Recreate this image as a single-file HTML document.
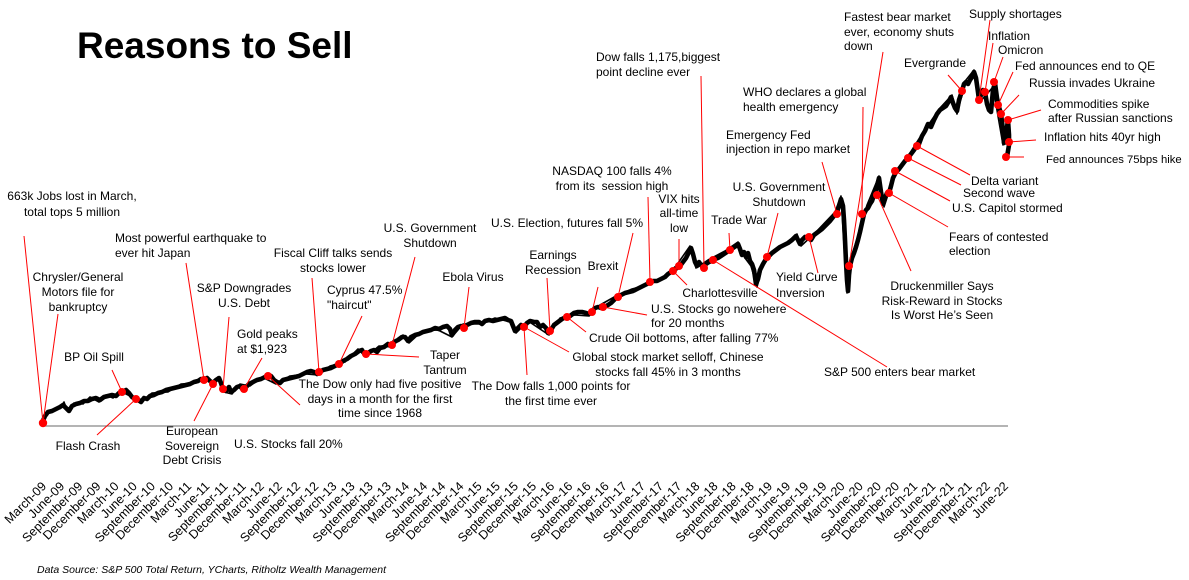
<!DOCTYPE html>
<html>
<head>
<meta charset="utf-8">
<style>
html,body{margin:0;padding:0;background:#fff;}
svg{display:block;}
text{font-family:"Liberation Sans",Arial,sans-serif;fill:#000;}
.a{font-size:12px;}
.m{text-anchor:middle;}
.t{font-size:12.5px;text-anchor:end;}
.ld{stroke:#ff0000;stroke-width:1;}
</style>
</head>
<body>
<svg width="1189" height="580" viewBox="0 0 1189 580" xmlns="http://www.w3.org/2000/svg">
<rect width="1189" height="580" fill="#fff"/>
<text x="77" y="58" style="font-size:37px;font-weight:bold;">Reasons to Sell</text>

<line x1="43" y1="426" x2="1008" y2="426" stroke="#888" stroke-width="1.2"/>

<polyline fill="none" stroke="#000" stroke-width="4.6" stroke-linejoin="round" stroke-linecap="round" points="42,423 45,416 48,412 52,411 56,409 60,407 63,405 66,408 69,411 72,406 76,404 80,403 84,401 88,401 92,399 96,398 100,400 104,397 108,396 112,395 116,396 119,393 122,392 126,390 129,393 132,397 135,399 138,400 141,402 144,398 147,399 150,396 154,395 158,393 162,392 166,390 170,389 174,388 178,387 182,386 186,385 190,384 194,382 198,381 201,379 204,380 207,378 210,381 213,383 216,380 219,378 221,383 223,389 226,391 229,387 231,392 234,390 237,387 240,386 243,390 246,387 249,384 253,382 257,380 261,379 265,377 268,375 271,376 274,380 277,382 280,383 283,380 287,379 291,378 295,377 299,376 303,374 307,372 311,371 314,372 317,374 320,372 323,370 327,369 331,368 335,366 339,364 343,361 347,359 351,356 355,354 359,351 362,350 365,355 368,353 371,351 374,350 377,352 380,348 384,347 388,344 391,345 394,342 398,340 402,337 405,337 408,341 411,337 415,335 419,334 423,332 427,331 431,330 435,328 439,329 443,327 447,326 450,329 452,335 455,330 458,327 461,326 464,327 467,325 471,323 475,322 479,322 482,324 485,321 489,320 493,321 497,320 501,319 505,318 508,320 511,321 513,326 515,331 518,328 521,325 524,327 527,323 530,321 534,322 537,322 540,327 543,325 546,328 548,333 551,330 554,325 558,322 562,319 566,317 570,316 574,313 578,312 582,312 586,313 589,314 592,311 595,308 598,307 601,308 604,307 608,305 611,303 614,300 617,297 621,295 625,293 629,292 633,291 637,289 641,287 645,285 649,283 653,281 657,281 661,279 665,277 668,274 671,272 674,270 677,268 680,266 683,262 686,258 689,252 691,248 693,254 695,262 697,266 699,262 701,265 703,268 706,264 709,262 712,261 715,259 718,258 721,256 724,254 727,252 730,250 733,248 736,246 738,244 740,249 742,255 744,252 746,257 748,253 750,261 752,264 754,270 756,284 758,279 760,270 763,264 766,259 769,256 772,253 776,250 780,247 784,245 788,243 792,240 796,236 798,240 800,244 802,240 805,237 808,238 811,240 814,235 818,232 822,229 826,225 830,221 834,216 837,212 839,206 841,199 843,206 844,220 845,240 846,262 847,280 848,291 849,275 850,266 852,258 854,253 856,247 858,240 860,232 862,223 864,214 866,210 868,208 870,204 872,201 874,195 876,190 878,182 879,178 881,192 883,204 885,198 887,193 889,193 891,186 893,178 896,172 899,169 902,165 905,161 908,158 911,154 914,150 916,147 919,144 922,136 925,131 928,124 931,127 934,120 937,114 940,110 943,108 946,106 949,101 951,97 953,103 955,108 957,111 959,100 962,91 964,84 966,82 968,84 970,80 972,77 974,72 976,78 978,92 979,100 981,95 983,90 985,92 987,104 989,110 991,112 993,90 995,83 997,98 999,107 1001,114 1003,130 1004,143 1006,135 1008,120 1009,135 1009,145 1007,157"/>
<polyline fill="none" stroke="#000" stroke-width="1.6" stroke-linejoin="round" points="60,409 64,402 67,410 74,403 83,404 90,397 99,402 106,395 113,398 120,391 130,396 143,400 152,393 168,392 181,384 196,383 206,377 212,385 218,377 224,392 232,394 240,384 250,386 262,377 276,384 290,376 306,374 318,375 330,366 345,362 358,349 366,357 379,346 392,347 403,335 409,343 422,331 438,330 452,337 463,324 480,324 495,318 510,322 516,333 528,321 540,329 549,335 560,318 575,315 589,316 600,305 616,296 632,289 648,285 664,276 676,266 690,246 696,268 708,260 725,251 738,242 745,258 751,266 757,287 764,260 786,243 797,234 801,246 815,233 835,212 841,196 847,293 852,256 867,205 879,176 884,207 894,176 910,153 922,134 940,108 952,95 957,114 966,80 974,70 979,103 993,87 1003,145 1009,118"/>

<g class="ld">
<line x1="24" y1="236" x2="43" y2="423"/>
<line x1="58" y1="314" x2="43" y2="423"/>
<line x1="112" y1="370" x2="122" y2="392"/>
<line x1="97" y1="435" x2="136" y2="399"/>
<line x1="186" y1="263" x2="204" y2="380"/>
<line x1="229" y1="317" x2="223" y2="389"/>
<line x1="262" y1="358" x2="244" y2="389"/>
<line x1="194" y1="421" x2="213" y2="384"/>
<line x1="300" y1="405" x2="268" y2="376"/>
<line x1="312" y1="278" x2="319" y2="372"/>
<line x1="362" y1="316" x2="339" y2="364"/>
<line x1="415" y1="257" x2="392" y2="345"/>
<line x1="419" y1="357" x2="366" y2="354"/>
<line x1="469" y1="287" x2="464" y2="328"/>
<line x1="527" y1="375" x2="524" y2="327"/>
<line x1="569" y1="352" x2="524" y2="327"/>
<line x1="547" y1="278" x2="550" y2="331"/>
<line x1="598" y1="287" x2="592" y2="312"/>
<line x1="586" y1="332" x2="567" y2="317"/>
<line x1="647" y1="315" x2="603" y2="307"/>
<line x1="633" y1="233" x2="618" y2="297"/>
<line x1="648" y1="197" x2="650" y2="282"/>
<line x1="679" y1="239" x2="679" y2="266"/>
<line x1="687" y1="285" x2="673" y2="271"/>
<line x1="701" y1="76" x2="704" y2="268"/>
<line x1="729" y1="233" x2="730" y2="250"/>
<line x1="778" y1="213" x2="767" y2="257"/>
<line x1="887" y1="367" x2="713" y2="260"/>
<line x1="818" y1="273" x2="809" y2="237"/>
<line x1="822" y1="162" x2="837" y2="214"/>
<line x1="863" y1="107" x2="862" y2="214"/>
<line x1="883" y1="52" x2="849" y2="266"/>
<line x1="911" y1="271" x2="877" y2="195"/>
<line x1="948" y1="227" x2="889" y2="193"/>
<line x1="950" y1="201" x2="895" y2="171"/>
<line x1="961" y1="185" x2="908" y2="158"/>
<line x1="970" y1="175" x2="917" y2="146"/>
<line x1="948" y1="75" x2="962" y2="91"/>
<line x1="990" y1="20" x2="979" y2="100"/>
<line x1="993" y1="43" x2="985" y2="92"/>
<line x1="1003" y1="57" x2="994" y2="82"/>
<line x1="1013" y1="72" x2="998" y2="105"/>
<line x1="1019" y1="95" x2="1001" y2="114"/>
<line x1="1041" y1="110" x2="1008" y2="120"/>
<line x1="1036" y1="140" x2="1009" y2="142"/>
<line x1="1024" y1="157" x2="1006" y2="157"/>
</g>

<g fill="#ff0000">
<circle cx="43" cy="423" r="4.2"/>
<circle cx="122" cy="392" r="4"/>
<circle cx="136" cy="399" r="4"/>
<circle cx="204" cy="380" r="4"/>
<circle cx="213" cy="384" r="4"/>
<circle cx="223" cy="389" r="4"/>
<circle cx="244" cy="389" r="4"/>
<circle cx="268" cy="376" r="4"/>
<circle cx="319" cy="372" r="4"/>
<circle cx="339" cy="364" r="4"/>
<circle cx="366" cy="354" r="4"/>
<circle cx="392" cy="345" r="4"/>
<circle cx="464" cy="328" r="4"/>
<circle cx="524" cy="327" r="4"/>
<circle cx="550" cy="331" r="4"/>
<circle cx="567" cy="317" r="4"/>
<circle cx="592" cy="312" r="4"/>
<circle cx="603" cy="307" r="4"/>
<circle cx="618" cy="297" r="4"/>
<circle cx="650" cy="282" r="4"/>
<circle cx="673" cy="271" r="4"/>
<circle cx="679" cy="266" r="4"/>
<circle cx="704" cy="268" r="4"/>
<circle cx="713" cy="260" r="4"/>
<circle cx="730" cy="250" r="4"/>
<circle cx="767" cy="257" r="4"/>
<circle cx="809" cy="237" r="4"/>
<circle cx="837" cy="214" r="4"/>
<circle cx="849" cy="266" r="4"/>
<circle cx="862" cy="214" r="4"/>
<circle cx="877" cy="195" r="4"/>
<circle cx="889" cy="193" r="4"/>
<circle cx="895" cy="171" r="4"/>
<circle cx="908" cy="158" r="4"/>
<circle cx="917" cy="146" r="4"/>
<circle cx="962" cy="91" r="4"/>
<circle cx="979" cy="100" r="4"/>
<circle cx="985" cy="92" r="4"/>
<circle cx="994" cy="82" r="4"/>
<circle cx="998" cy="105" r="4"/>
<circle cx="1001" cy="114" r="4"/>
<circle cx="1008" cy="120" r="4"/>
<circle cx="1009" cy="142" r="4"/>
<circle cx="1006" cy="157" r="4"/>
</g>

<g class="a">
<text class="m" x="72" y="200">663k Jobs lost in March,</text>
<text class="m" x="72" y="216">total tops 5 million</text>
<text class="m" x="78" y="281">Chrysler/General</text>
<text class="m" x="78" y="296">Motors file for</text>
<text class="m" x="78" y="311">bankruptcy</text>
<text class="m" x="94" y="361">BP Oil Spill</text>
<text class="m" x="88" y="450">Flash Crash</text>
<text x="115" y="242">Most powerful earthquake to</text>
<text x="115" y="257">ever hit Japan</text>
<text class="m" x="244" y="292">S&amp;P Downgrades</text>
<text class="m" x="244" y="307">U.S. Debt</text>
<text x="237" y="338">Gold peaks</text>
<text x="237" y="353">at $1,923</text>
<text class="m" x="192" y="435">European</text>
<text class="m" x="192" y="450">Sovereign</text>
<text class="m" x="192" y="464">Debt Crisis</text>
<text x="234" y="448">U.S. Stocks fall 20%</text>
<text class="m" x="333" y="257">Fiscal Cliff talks sends</text>
<text class="m" x="333" y="272">stocks lower</text>
<text x="327" y="294">Cyprus 47.5%</text>
<text x="327" y="309">"haircut"</text>
<text class="m" x="430" y="232">U.S. Government</text>
<text class="m" x="430" y="247">Shutdown</text>
<text class="m" x="445" y="359">Taper</text>
<text class="m" x="445" y="374">Tantrum</text>
<text class="m" x="380" y="388">The Dow only had five positive</text>
<text class="m" x="380" y="403">days in a month for the first</text>
<text class="m" x="380" y="417">time since 1968</text>
<text class="m" x="473" y="281">Ebola Virus</text>
<text class="m" x="551" y="390">The Dow falls 1,000 points for</text>
<text class="m" x="551" y="405">the first time ever</text>
<text class="m" x="668" y="361">Global stock market selloff, Chinese</text>
<text class="m" x="668" y="376">stocks fall 45% in 3 months</text>
<text class="m" x="553" y="259">Earnings</text>
<text class="m" x="553" y="274">Recession</text>
<text class="m" x="603" y="270">Brexit</text>
<text x="589" y="342">Crude Oil bottoms, after falling 77%</text>
<text x="651" y="313">U.S. Stocks go nowehere</text>
<text x="651" y="327">for 20 months</text>
<text class="m" x="567" y="227">U.S. Election, futures fall 5%</text>
<text class="m" x="612" y="175">NASDAQ 100 falls 4%</text>
<text class="m" x="612" y="190">from its&#160; session high</text>
<text class="m" x="679" y="203">VIX hits</text>
<text class="m" x="679" y="217">all-time</text>
<text class="m" x="679" y="232">low</text>
<text class="m" x="720" y="297">Charlottesville</text>
<text x="596" y="61">Dow falls 1,175,biggest</text>
<text x="596" y="76">point decline ever</text>
<text class="m" x="739" y="224">Trade War</text>
<text class="m" x="779" y="191">U.S. Government</text>
<text class="m" x="779" y="206">Shutdown</text>
<text x="824" y="376">S&amp;P 500 enters bear market</text>
<text x="776" y="281">Yield Curve</text>
<text x="776" y="297">Inversion</text>
<text x="726" y="139">Emergency Fed</text>
<text x="726" y="153">injection in repo market</text>
<text x="743" y="96">WHO declares a global</text>
<text x="743" y="111">health emergency</text>
<text x="844" y="21">Fastest bear market</text>
<text x="844" y="36">ever, economy shuts</text>
<text x="844" y="50">down</text>
<text class="m" x="942" y="290">Druckenmiller Says</text>
<text class="m" x="942" y="305">Risk-Reward in Stocks</text>
<text class="m" x="942" y="319">Is Worst He’s Seen</text>
<text x="949" y="241">Fears of contested</text>
<text x="949" y="255">election</text>
<text x="952" y="212">U.S. Capitol stormed</text>
<text x="963" y="197">Second wave</text>
<text x="971" y="185">Delta variant</text>
<text class="m" x="935" y="67">Evergrande</text>
<text x="969" y="18">Supply shortages</text>
<text x="988" y="40">Inflation</text>
<text x="998" y="54">Omicron</text>
<text x="1015" y="70">Fed announces end to QE</text>
<text x="1029" y="87">Russia invades Ukraine</text>
<text x="1048" y="108">Commodities spike</text>
<text x="1048" y="122">after Russian sanctions</text>
<text x="1044" y="141">Inflation hits 40yr high</text>
<text x="1046" y="163" style="font-size:11.3px">Fed announces 75bps hike</text>
</g>

<g class="t">
<text transform="translate(47,487) rotate(-45)">March-09</text>
<text transform="translate(65.15,487) rotate(-45)">June-09</text>
<text transform="translate(83.3,487) rotate(-45)">September-09</text>
<text transform="translate(101.45,487) rotate(-45)">December-09</text>
<text transform="translate(119.6,487) rotate(-45)">March-10</text>
<text transform="translate(137.75,487) rotate(-45)">June-10</text>
<text transform="translate(155.9,487) rotate(-45)">September-10</text>
<text transform="translate(174.05,487) rotate(-45)">December-10</text>
<text transform="translate(192.2,487) rotate(-45)">March-11</text>
<text transform="translate(210.35,487) rotate(-45)">June-11</text>
<text transform="translate(228.5,487) rotate(-45)">September-11</text>
<text transform="translate(246.65,487) rotate(-45)">December-11</text>
<text transform="translate(264.8,487) rotate(-45)">March-12</text>
<text transform="translate(282.95,487) rotate(-45)">June-12</text>
<text transform="translate(301.1,487) rotate(-45)">September-12</text>
<text transform="translate(319.25,487) rotate(-45)">December-12</text>
<text transform="translate(337.4,487) rotate(-45)">March-13</text>
<text transform="translate(355.55,487) rotate(-45)">June-13</text>
<text transform="translate(373.7,487) rotate(-45)">September-13</text>
<text transform="translate(391.85,487) rotate(-45)">December-13</text>
<text transform="translate(410,487) rotate(-45)">March-14</text>
<text transform="translate(428.15,487) rotate(-45)">June-14</text>
<text transform="translate(446.3,487) rotate(-45)">September-14</text>
<text transform="translate(464.45,487) rotate(-45)">December-14</text>
<text transform="translate(482.6,487) rotate(-45)">March-15</text>
<text transform="translate(500.75,487) rotate(-45)">June-15</text>
<text transform="translate(518.9,487) rotate(-45)">September-15</text>
<text transform="translate(537.05,487) rotate(-45)">December-15</text>
<text transform="translate(555.2,487) rotate(-45)">March-16</text>
<text transform="translate(573.35,487) rotate(-45)">June-16</text>
<text transform="translate(591.5,487) rotate(-45)">September-16</text>
<text transform="translate(609.65,487) rotate(-45)">December-16</text>
<text transform="translate(627.8,487) rotate(-45)">March-17</text>
<text transform="translate(645.95,487) rotate(-45)">June-17</text>
<text transform="translate(664.1,487) rotate(-45)">September-17</text>
<text transform="translate(682.25,487) rotate(-45)">December-17</text>
<text transform="translate(700.4,487) rotate(-45)">March-18</text>
<text transform="translate(718.55,487) rotate(-45)">June-18</text>
<text transform="translate(736.7,487) rotate(-45)">September-18</text>
<text transform="translate(754.85,487) rotate(-45)">December-18</text>
<text transform="translate(773,487) rotate(-45)">March-19</text>
<text transform="translate(791.15,487) rotate(-45)">June-19</text>
<text transform="translate(809.3,487) rotate(-45)">September-19</text>
<text transform="translate(827.45,487) rotate(-45)">December-19</text>
<text transform="translate(845.6,487) rotate(-45)">March-20</text>
<text transform="translate(863.75,487) rotate(-45)">June-20</text>
<text transform="translate(881.9,487) rotate(-45)">September-20</text>
<text transform="translate(900.05,487) rotate(-45)">December-20</text>
<text transform="translate(918.2,487) rotate(-45)">March-21</text>
<text transform="translate(936.35,487) rotate(-45)">June-21</text>
<text transform="translate(954.5,487) rotate(-45)">September-21</text>
<text transform="translate(972.65,487) rotate(-45)">December-21</text>
<text transform="translate(990.8,487) rotate(-45)">March-22</text>
<text transform="translate(1008.95,487) rotate(-45)">June-22</text>
</g>

<text x="37" y="573" style="font-size:10.5px;font-style:italic;">Data Source: S&amp;P 500 Total Return, YCharts, Ritholtz Wealth Management</text>
</svg>
</body>
</html>
